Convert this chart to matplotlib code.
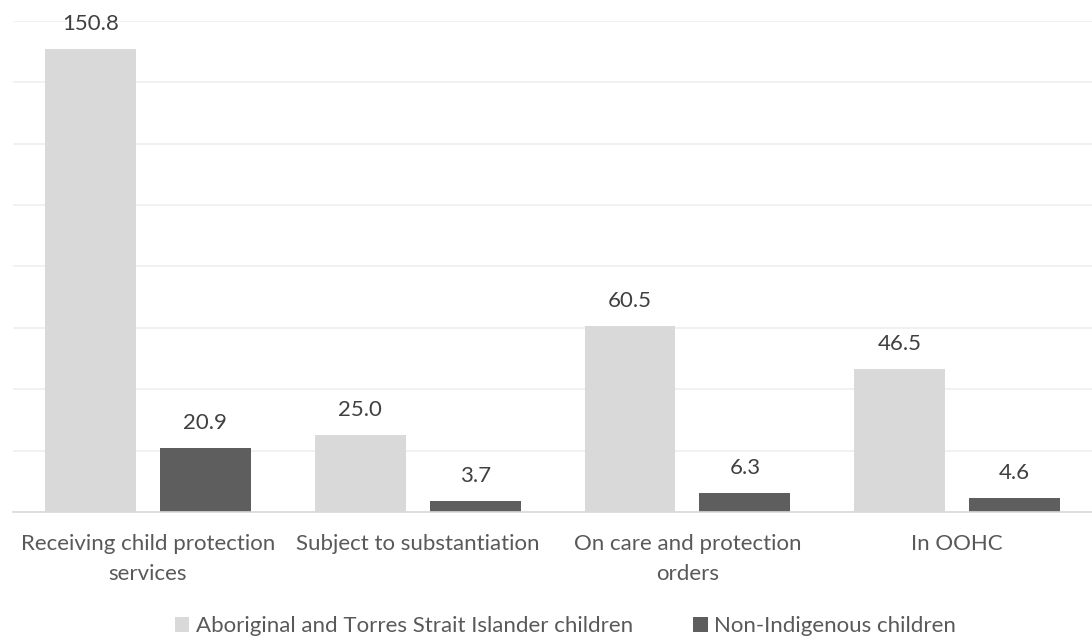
import matplotlib.pyplot as plt
import numpy as np

categories = ["Receiving child protection\nservices", "Subject to substantiation",
              "On care and protection\norders", "In OOHC"]
indigenous = [150.8, 25.0, 60.5, 46.5]
non_indigenous = [20.9, 3.7, 6.3, 4.6]
series_names = ["Aboriginal and Torres Strait Islander children", "Non-Indigenous children"]

plt.rcParams['font.family'] = ['Lato', 'DejaVu Sans']

fig = plt.figure(figsize=(10.92, 6.36), dpi=100)
ax = fig.add_axes([0.012, 0.195, 0.988, 0.772])

x = np.arange(len(categories))
w = 0.337
off = 0.213
b1 = ax.bar(x - off, indigenous, w, color="#D9D9D9", label=series_names[0])
b2 = ax.bar(x + off, non_indigenous, w, color="#5E5E5E", label=series_names[1])

for bars, vals in [(b1, indigenous), (b2, non_indigenous)]:
    for b, v in zip(bars, vals):
        ax.annotate(f"{v:.1f}", (b.get_x() + b.get_width() / 2, v),
                    xytext=(0, 18), textcoords="offset points",
                    ha="center", va="center", fontsize=16, color="#404040")

ax.set_xlim(-0.5, 3.5)
ax.set_ylim(0, 160)
ax.set_yticks(np.arange(0, 161, 20))
ax.yaxis.grid(True, color="#EFEFEF", linewidth=1.2)
ax.set_axisbelow(True)
ax.tick_params(axis="y", left=False, labelleft=False)
ax.tick_params(axis="x", length=0, pad=16)
ax.set_xticks(x)
ax.set_xticklabels(categories, fontsize=16, color="#595959", linespacing=1.6)
for s in ["left", "right", "top"]:
    ax.spines[s].set_visible(False)
ax.spines["bottom"].set_color("#D9D9D9")
ax.spines["bottom"].set_linewidth(1.2)

fig.legend(loc="lower center", bbox_to_anchor=(0.518, -0.032), ncol=2, frameon=False,
           fontsize=16, labelcolor="#595959", handlelength=0.65, handleheight=0.65,
           handletextpad=0.3, columnspacing=2.7)

fig.savefig("out.png", dpi=100)
